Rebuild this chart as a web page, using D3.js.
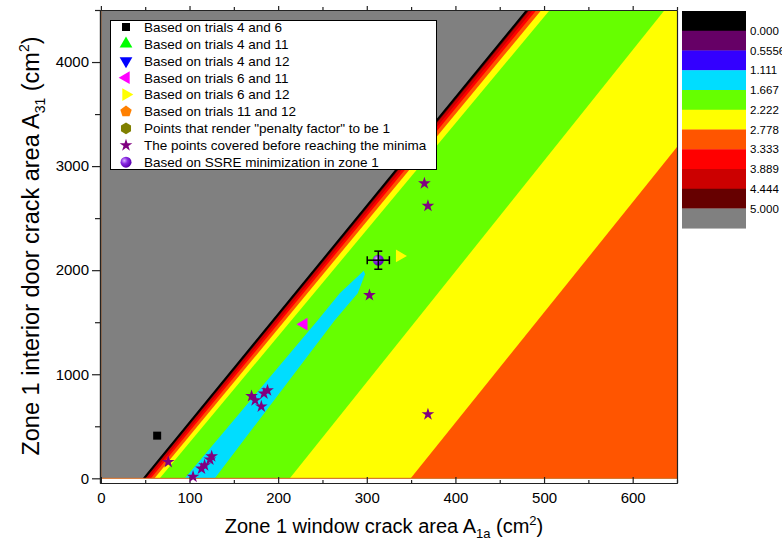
<!DOCTYPE html>
<html>
<head>
<meta charset="utf-8">
<script src="https://cdn.jsdelivr.net/npm/d3@7"></script>
<style>
  body { margin: 0; background: #fff; }
  svg text { font-family: Arial, "Liberation Sans", sans-serif; fill: #000; }
</style>
</head>
<body>
<div id="chart"></div>
<script>
// tick values
var xTicks = [0, 100, 200, 300, 400, 500, 600];
var xMinorTicks = [50, 150, 250, 350, 450, 550, 650];
var yTicks = [0, 1000, 2000, 3000, 4000];
var yMinorTicks = [500, 1500, 2500, 3500, 4500];

// colour scale of the map
var levels = [0, 0.5556, 1.111, 1.667, 2.222, 2.778, 3.333, 3.889, 4.444, 5.0];
var levelLabels = ["0.000", "0.5556", "1.111", "1.667", "2.222", "2.778", "3.333", "3.889", "4.444", "5.000"];
var levelColors = ["#000000", "#660066", "#3300ff", "#00ddff", "#66ff00", "#ffff00",
                   "#ff5500", "#ff0000", "#cc0000", "#660000", "#808080"];

// contour edges: x where each edge meets A31 = 0 and A31 = 4500
// steep side (left of the valley)
var steepLevels = [5.000, 4.444, 3.889, 3.333, 2.778, 2.222];
var steepBottomX = [47.7, 50.5, 53.5, 56.5, 60.5, 66.5];
var steepTopX = [480.0, 483.5, 487.5, 491.5, 497.0, 506.5];
// gentle side (right of the valley)
var gentleLevels = [2.222, 2.778];
var gentleBottomX = [213.2, 349.6];
var gentleTopX = [636.1, 774.3];
// the 1.111 - 1.667 valley strip
var valleyLeft = [[94.7, 0], [244.7, 1519], [269.5, 1779], [296.6, 1995]];
var valleyRight = [[298, 1960], [289.8, 1779], [263.9, 1519], [128.6, 0]];

// points
var trials46 = [[63.5, 410]];
var trials611 = [[229, 1481]];
var trials612 = [[337, 2137]];
var coveredX = [76, 104, 113.5, 117, 123, 125, 170, 174, 181, 184, 188, 303, 365, 369, 369];
var coveredY = [157, 15, 93, 125, 180, 211, 790, 750, 690, 815, 845, 1760, 2834, 2618, 615];
var ssreX = [313];
var ssreY = [2096];
var ssreErrX = [12.5];
var ssreErrY = [87];

var legendLabels = [
  "Based on trials 4 and 6",
  "Based on trials 4 and 11",
  "Based on trials 4 and 12",
  "Based on trials 6 and 11",
  "Based on trials 6 and 12",
  "Based on trials 11 and 12",
  "Points that render \"penalty factor\" to be 1",
  "The points covered before reaching the minima",
  "Based on SSRE minimization in zone 1"
];

var svg = d3.select("#chart").append("svg")
  .attr("width", 782)
  .attr("height", 544);

var defs = svg.append("defs");

// scales
var x = d3.scaleLinear().domain([-1, 650]).range([100, 677]);
var y = d3.scaleLinear().domain([-45, 4500]).range([483, 10]);
var color = d3.scaleThreshold().domain(levels).range(levelColors);

defs.append("clipPath").attr("id", "mapClip")
  .append("rect")
  .attr("x", x(0)).attr("y", y(4500))
  .attr("width", x(650) - x(0))
  .attr("height", y(0) - y(4500));

var grad = defs.append("radialGradient").attr("id", "ball")
  .attr("cx", "35%").attr("cy", "35%").attr("r", "65%");
grad.append("stop").attr("offset", "0%").attr("stop-color", "#d9b3ff");
grad.append("stop").attr("offset", "45%").attr("stop-color", "#8a2be2");
grad.append("stop").attr("offset", "100%").attr("stop-color", "#5a00b0");

var line = d3.line().x(d => x(d[0])).y(d => y(d[1]));

// filled contour map
var map = svg.append("g").attr("clip-path", "url(#mapClip)");

map.append("rect")
  .attr("x", x(0)).attr("y", y(4500))
  .attr("width", x(650) - x(0))
  .attr("height", y(0) - y(4500))
  .attr("fill", color(6));

steepLevels.forEach(function(lv, i) {
  map.append("path")
    .attr("d", line([[steepBottomX[i], 0], [steepTopX[i], 4500], [2000, 4500], [2000, 0]]) + "Z")
    .attr("fill", color(lv - 0.01));
});

gentleLevels.forEach(function(lv, i) {
  map.append("path")
    .attr("d", line([[gentleBottomX[i], 0], [gentleTopX[i], 4500], [2000, 4500], [2000, 0]]) + "Z")
    .attr("fill", color(lv + 0.01));
});

map.append("path")
  .attr("d", line(valleyLeft.concat(valleyRight)) + "Z")
  .attr("fill", color(1.5));

// dark edge of the grey zone
map.append("path")
  .attr("d", line([[steepBottomX[0] + 0.9, 0], [steepTopX[0] + 0.9, 4500]]))
  .attr("stroke", "#000")
  .attr("stroke-width", 2)
  .attr("fill", "none");

// thin orange edge of the map
svg.append("path")
  .attr("d", line([[0, 4500], [0, 0], [650, 0]]))
  .attr("stroke", "#d2691e")
  .attr("stroke-width", 1)
  .attr("fill", "none");

// axes
function styleAxis(g) {
  g.selectAll("path").attr("stroke", "#222").attr("stroke-width", 1.2);
  g.selectAll("line").attr("stroke", "#222").attr("stroke-width", 1.2);
  g.selectAll("text").attr("font-size", "15px").attr("fill", "#000");
}

svg.append("g")
  .attr("transform", `translate(0, ${y(-45)})`)
  .call(d3.axisBottom(x).tickValues(xTicks).tickSizeInner(-6).tickSizeOuter(0).tickPadding(9))
  .call(styleAxis);
svg.append("g")
  .attr("transform", `translate(0, ${y(-45)})`)
  .call(d3.axisBottom(x).tickValues(xMinorTicks).tickSizeInner(-3).tickSizeOuter(0).tickFormat(""))
  .call(styleAxis);

svg.append("g")
  .attr("transform", `translate(${x(-1)}, 0)`)
  .call(d3.axisLeft(y).tickValues(yTicks).tickFormat(d3.format("d"))
    .tickSizeInner(8).tickSizeOuter(0).tickPadding(3))
  .call(styleAxis);
svg.append("g")
  .attr("transform", `translate(${x(-1)}, 0)`)
  .call(d3.axisLeft(y).tickValues(yMinorTicks).tickSizeInner(5).tickSizeOuter(0).tickFormat(""))
  .call(styleAxis);

svg.append("g")
  .attr("transform", `translate(0, ${y(4500)})`)
  .call(d3.axisTop(x).tickValues(xTicks).tickSizeInner(4).tickSizeOuter(0).tickFormat(""))
  .call(styleAxis);
svg.append("g")
  .attr("transform", `translate(0, ${y(4500)})`)
  .call(d3.axisTop(x).tickValues(xMinorTicks).tickSizeInner(3).tickSizeOuter(0).tickFormat(""))
  .call(styleAxis);

svg.append("g")
  .attr("transform", `translate(${x(650)}, 0)`)
  .call(d3.axisRight(y).tickValues([]).tickSizeOuter(0))
  .call(styleAxis);

// axis titles
var xTitle = svg.append("text")
  .attr("x", 384).attr("y", 533)
  .attr("text-anchor", "middle")
  .attr("font-size", "20px");
xTitle.append("tspan").text("Zone 1 window crack area A");
xTitle.append("tspan").attr("font-size", "13px").attr("dy", 5).text("1a");
xTitle.append("tspan").attr("dy", -5).text(" (cm");
xTitle.append("tspan").attr("font-size", "13px").attr("dy", -8).text("2");
xTitle.append("tspan").attr("dy", 8).text(")");

var yTitle = svg.append("text")
  .attr("transform", "translate(39, 246) rotate(-90)")
  .attr("text-anchor", "middle")
  .attr("font-size", "23.5px");
yTitle.append("tspan").text("Zone 1 interior door crack area A");
yTitle.append("tspan").attr("font-size", "14px").attr("dy", 6).text("31");
yTitle.append("tspan").attr("dy", -6).text("  (cm");
yTitle.append("tspan").attr("font-size", "14px").attr("dy", -10).text("2");
yTitle.append("tspan").attr("dy", 10).text(")");

// marker shapes
function polygonPath(n, r, rot) {
  var pts = d3.range(n).map(function(i) {
    var a = rot + i * 2 * Math.PI / n;
    return [r * Math.sin(a), -r * Math.cos(a)];
  });
  return "M" + pts.join("L") + "Z";
}
var shapes = [
  {d: d3.symbol(d3.symbolSquare, 64)(), rot: 0, fill: "#000000"},
  {d: d3.symbol(d3.symbolTriangle, 70)(), rot: 0, fill: "#00ff00"},
  {d: d3.symbol(d3.symbolTriangle, 70)(), rot: 180, fill: "#0000ff"},
  {d: d3.symbol(d3.symbolTriangle, 70)(), rot: -90, fill: "#ff00ff"},
  {d: d3.symbol(d3.symbolTriangle, 70)(), rot: 90, fill: "#ffff00"},
  {d: polygonPath(5, 6, 0), rot: 0, fill: "#ff8000"},
  {d: polygonPath(6, 5.8, 0), rot: 0, fill: "#808000"},
  {d: d3.symbol(d3.symbolStar, 50)(), rot: 0, fill: "#800080"},
  {d: null, rot: 0, fill: "url(#ball)"}
];

function drawMarker(g, s, px, py) {
  if (s.d) {
    g.append("path")
      .attr("d", s.d)
      .attr("transform", `translate(${px}, ${py}) rotate(${s.rot})`)
      .attr("fill", s.fill);
  } else {
    g.append("circle")
      .attr("cx", px).attr("cy", py).attr("r", 5.5)
      .attr("fill", s.fill);
  }
}

var pts = svg.append("g");
trials46.forEach(d => drawMarker(pts, shapes[0], x(d[0]), y(d[1])));
trials611.forEach(d => drawMarker(pts, shapes[3], x(d[0]), y(d[1])));
trials612.forEach(d => drawMarker(pts, shapes[4], x(d[0]), y(d[1])));
coveredX.forEach((v, i) => drawMarker(pts, shapes[7], x(v), y(coveredY[i])));

// SSRE point with error bars
ssreX.forEach(function(v, i) {
  var cx = x(v), cy = y(ssreY[i]);
  var x0 = x(v - ssreErrX[i]), x1 = x(v + ssreErrX[i]);
  var y0 = y(ssreY[i] - ssreErrY[i]), y1 = y(ssreY[i] + ssreErrY[i]);
  drawMarker(pts, shapes[8], cx, cy);
  var eb = pts.append("g").attr("stroke", "#000").attr("stroke-width", 1.5);
  eb.append("line").attr("x1", x0).attr("x2", x1).attr("y1", cy).attr("y2", cy);
  eb.append("line").attr("x1", cx).attr("x2", cx).attr("y1", y0).attr("y2", y1);
  eb.append("line").attr("x1", x0).attr("x2", x0).attr("y1", cy - 4).attr("y2", cy + 4);
  eb.append("line").attr("x1", x1).attr("x2", x1).attr("y1", cy - 4).attr("y2", cy + 4);
  eb.append("line").attr("x1", cx - 4).attr("x2", cx + 4).attr("y1", y0).attr("y2", y0);
  eb.append("line").attr("x1", cx - 4).attr("x2", cx + 4).attr("y1", y1).attr("y2", y1);
});

// legend
var legend = svg.append("g").attr("transform", "translate(110, 20)");
legend.append("rect")
  .attr("x", 0.5).attr("y", 0.5)
  .attr("width", 326).attr("height", 149)
  .attr("fill", "#fff")
  .attr("stroke", "#000")
  .attr("stroke-width", 1);
legendLabels.forEach(function(lbl, i) {
  var ly = 7 + i * 16.9;
  drawMarker(legend, shapes[i], 16, ly);
  legend.append("text")
    .attr("x", 34).attr("y", ly)
    .attr("dy", "0.36em")
    .attr("font-size", "13.5px")
    .text(lbl);
});

// colour bar
var cellH = 19.75;
var bar = svg.append("g").attr("transform", "translate(682, 11)");
bar.selectAll("rect")
  .data(levelColors)
  .enter()
  .append("rect")
  .attr("x", 0)
  .attr("y", (d, i) => i * cellH)
  .attr("width", 64)
  .attr("height", cellH + 0.3)
  .attr("fill", d => d);
bar.selectAll("text")
  .data(levelLabels)
  .enter()
  .append("text")
  .attr("x", 68)
  .attr("y", (d, i) => (i + 1) * cellH)
  .attr("dy", "0.35em")
  .attr("font-size", "11.5px")
  .text(d => d);
</script>
</body>
</html>
